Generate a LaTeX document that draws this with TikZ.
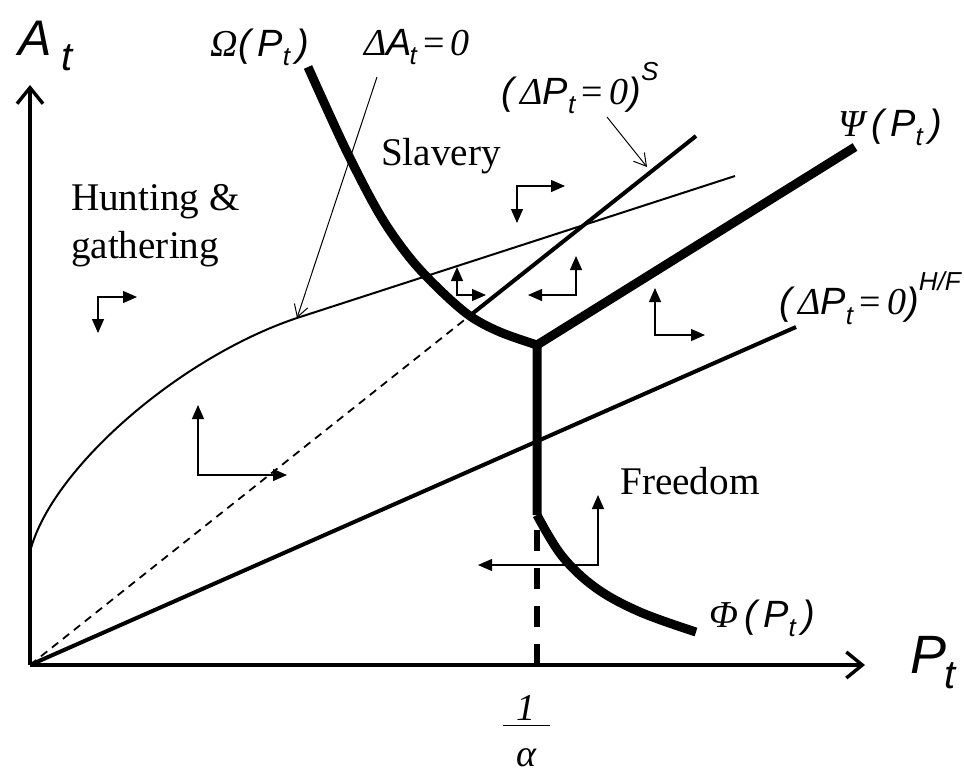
\documentclass[tikz,border=0pt]{standalone}
\usepackage{fontspec}
\setmainfont{Liberation Serif}
\setsansfont{Liberation Sans}
\usetikzlibrary{arrows.meta,calc}

\newcommand\gk[1]{{\rmfamily\itshape #1}}
\newcommand\vr[1]{{\sffamily\itshape #1}}
\newcommand\sbt{\raisebox{-0.45ex}{\fontsize{13}{13}\selectfont t}}
\newcommand\suplbl[1]{\raisebox{1.4ex}{\fontsize{13}{13}\selectfont\sffamily\itshape #1}}

\begin{document}
\begin{tikzpicture}[x=0.5pt,y=-0.5pt,
  axisline/.style={line width=1.7pt,-{Straight Barb[length=8pt,width=13pt]}},
  regime/.style={line width=4.5pt},
  locus/.style={line width=2pt},
  nullcline/.style={line width=1pt},
  guide/.style={line width=0.9pt,dash pattern=on 4pt off 3pt},
  callout/.style={line width=0.5pt,-{Straight Barb[length=6pt,width=7pt]}},
  motion/.style={line width=0.6pt,{Triangle[length=7pt,width=6pt]}-{Triangle[length=7pt,width=6pt]}},
  txt/.style={font=\fontsize{19.6}{24}\selectfont},
  lbl/.style={font=\fontsize{19}{22}\selectfont}]
\path[use as bounding box] (0,0) rectangle (964,783);

% axes
\coordinate (O) at (30,665);
\coordinate (xend) at (865,665);
\coordinate (yend) at (30,85);
\draw[axisline] (O) -- (xend);
\draw[axisline] (O) -- (yend);
\node[anchor=base west,font=\fontsize{25}{25}\selectfont\sffamily\itshape] (ylab) at (11,55) {A\kern5pt\raisebox{-7.5pt}{\fontsize{20}{20}\selectfont t}};
\node[anchor=base west,font=\fontsize{27}{27}\selectfont\sffamily\itshape] (xlab) at (903,673) {P\kern-1pt\raisebox{-7.5pt}{\fontsize{20}{20}\selectfont t}};

% regime boundaries
\coordinate (J) at (537,345);
\coordinate (K) at (537,515);
\coordinate (T) at (537,665);
\coordinate (psiend) at (855,147);
\draw[regime] plot[smooth,tension=0.55] coordinates {(308,67) (346,150) (380,215) (410,258) (440,290) (470,316) (500,332) (J)} -- (K);
\draw[regime] (J) -- (psiend);
\draw[regime] plot[smooth,tension=0.6] coordinates {(K) (562,556) (596,588) (640,612) (696,632)};
\draw[line width=3pt,dash pattern=on 10.5pt off 8.5pt] (T) -- (537,525);
\node[font=\fontsize{19}{19}\selectfont,align=center] (inv) at (526,731) {\itshape 1\\[-16pt]\rule{23.5pt}{0.7pt}\\[1pt]\itshape α};

% loci
\coordinate (hfend) at (796,327);
\coordinate (send) at (696,136);
\coordinate (sbrk) at ($(O)!0.66!(send)$);
\draw[locus] (O) -- (hfend);
\draw[guide] (O) -- (sbrk);
\draw[locus] (sbrk) -- (send);
\draw[nullcline] (30,552) .. controls (50,470) and (180,356) .. (300,317) -- (735,176);

% labels
\node[lbl] (omega) at (260,47) {\gk{Ω}\vr{(\,P\sbt\,)}};
\node[lbl] (dA) at (417,47) {\gk{Δ}\vr{A\kern-1pt\sbt}\,=\,\gk{0}};
\node[lbl] (dPs) at (580,88) {\vr{(\,}\gk{Δ}\vr{P\sbt}\,=\,\gk{0}\vr{)}\suplbl{S}};
\node[lbl] (psi) at (890,127) {\gk{Ψ}\,\vr{(\,P\sbt\,)}};
\node[lbl] (dPhf) at (870,298) {\vr{(\,}\gk{Δ}\vr{P\sbt}\,=\,\gk{0}\vr{)}\suplbl{H/F}};
\node[lbl] (phi) at (762,618) {\gk{Φ}\,\vr{(\,P\sbt\,)}};

\coordinate (dAfoot) at (377,77);
\coordinate (dAtip) at (297,318);
\coordinate (dPsfoot) at (607,117);
\coordinate (dPstip) at (647,167);
\draw[callout] (dAfoot) -- (dAtip);
\draw[callout] (dPsfoot) -- (dPstip);

% regimes
\node[txt,anchor=west,align=left] (hunt) at (64,226) {Hunting \&\\gathering};
\node[txt] (slave) at (441,156) {Slavery};
\node[txt] (free) at (690,481) {Freedom};

% laws of motion: corner / horizontal tip / vertical tip
\foreach \cx/\cy/\hx/\vy in {98/297/137/333, 198/475/287/405, 517/186/565/223,
    457/295/486/267, 576/295/528/256, 655/335/705/288, 598/565/478/495}
  \draw[motion] (\hx,\cy) -- (\cx,\cy) -- (\cx,\vy);
\end{tikzpicture}
\end{document}
